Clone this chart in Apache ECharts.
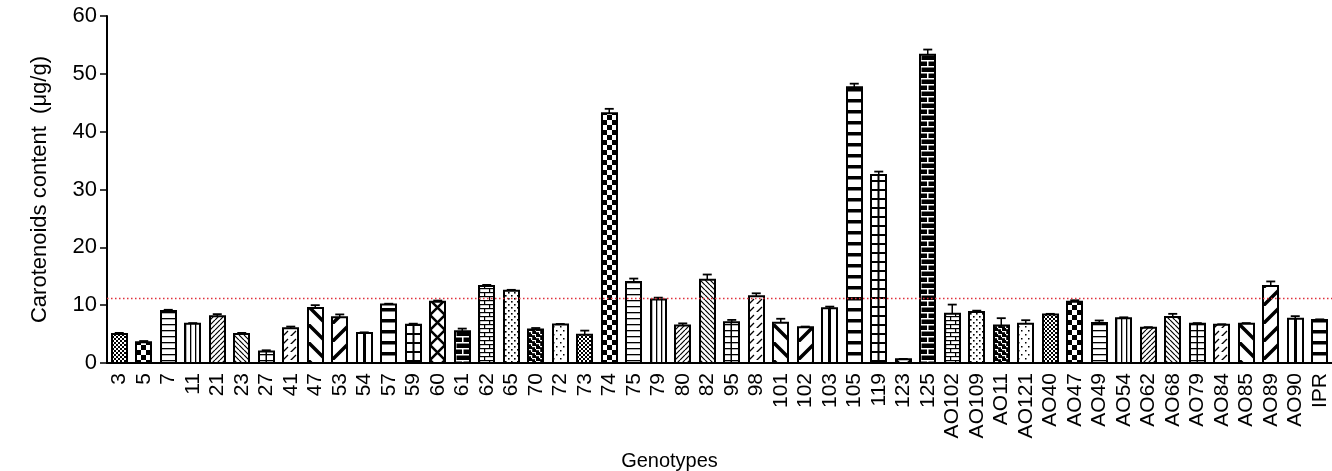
<!DOCTYPE html>
<html>
<head>
<meta charset="utf-8">
<script src="https://cdn.jsdelivr.net/npm/echarts@6/dist/echarts.min.js"></script>
<style>
html,body{margin:0;padding:0;background:#fff;}
#chart{width:1332px;height:471px;}
</style>
</head>
<body>
<div id="chart"></div>
<script>
// ---- data ----
const categories = ['3','5','7','11','21','23','27','41','47','53','54','57','59','60','61','62','65','70','72','73','74','75','79','80','82','95','98','101','102','103','105','119','123','125','AO102','AO109','AO11','AO121','AO40','AO47','AO49','AO54','AO62','AO68','AO79','AO84','AO85','AO89','AO90','IPR'];
const values = [5.0,3.6,9.0,6.8,8.1,5.0,2.0,6.0,9.5,7.9,5.2,10.1,6.6,10.6,5.5,13.3,12.5,5.8,6.65,4.9,43.2,14.0,11.0,6.5,14.4,7.05,11.55,6.95,6.2,9.45,47.7,32.5,0.66,53.3,8.5,8.8,6.5,6.8,8.4,10.6,6.9,7.75,6.1,7.95,6.8,6.6,6.8,13.3,7.65,7.45];
const errors = [0.2,0.2,0.2,0.1,0.35,0.2,0.2,0.3,0.5,0.5,0.1,0.15,0.2,0.2,0.45,0.2,0.15,0.25,0.1,0.7,0.75,0.6,0.3,0.35,0.9,0.4,0.5,0.7,0.1,0.3,0.6,0.6,0.05,0.9,1.6,0.25,1.25,0.6,0.1,0.25,0.45,0.15,0.1,0.55,0.1,0.1,0.1,0.8,0.45,0.1];
const referenceLine = 11.25;
const yTicks = {min:0, max:60, interval:10};

// ---- pattern tiles (style only) ----
function tile(w, h, draw, bg) {
  const c = document.createElement('canvas'); c.width = w; c.height = h;
  const g = c.getContext('2d');
  g.fillStyle = bg || '#fff'; g.fillRect(0,0,w,h);
  g.fillStyle = '#000'; g.strokeStyle = '#000';
  draw(g, w, h);
  return c;
}
function diag(g, w, h, lw, up) {
  g.lineWidth = lw; g.beginPath();
  for (let k = -1; k <= 1; k++) {
    if (up) { g.moveTo(k*w, h); g.lineTo(k*w + w, 0); }
    else { g.moveTo(k*w, 0); g.lineTo(k*w + w, h); }
  }
  g.stroke();
}
const tiles = [
  tile(4,4,g=>{g.fillRect(0,0,2,2);g.fillRect(2,2,2,2);}),                 // fine checker
  tile(10,10,g=>{g.fillRect(0,0,5,5);g.fillRect(5,5,5,5);}),               // big checker
  tile(15,6,g=>{g.fillRect(0,0,15,1.3);}),                                 // horizontal
  tile(5,4,g=>{g.fillRect(0,0,1.3,4);}),                                   // vertical
  tile(5,5,(g,w,h)=>diag(g,w,h,1.2,true)),                                 // dense /
  tile(5,5,(g,w,h)=>diag(g,w,h,1.2,false)),                                // dense \
  tile(15,6,g=>{g.fillRect(6.5,0,1.5,6);g.fillRect(0,0,15,1.3);}),         // grid
  tile(8,8,g=>{g.lineWidth=1.3;g.beginPath();g.moveTo(0,8);g.lineTo(5,3);g.moveTo(4,12);g.lineTo(9,7);g.stroke();}), // dashed /
  tile(18,18,(g,w,h)=>diag(g,w,h,3.5,false)),                              // thick \
  tile(18,18,(g,w,h)=>diag(g,w,h,3.5,true)),                               // thick /
  tile(15,4,g=>{g.fillRect(6,0,3,4);}),                                    // thick vertical
  tile(15,11,g=>{g.fillRect(0,0,15,3.5);}),                                // thick horizontal
  tile(15,9,g=>{g.fillRect(6.5,0,2,9);g.fillRect(0,0,15,2);}),             // grid 2
  tile(15,15,g=>{g.lineWidth=2.5;g.beginPath();g.moveTo(0,0);g.lineTo(15,15);g.moveTo(15,0);g.lineTo(0,15);g.stroke();}), // X
  tile(15,12,g=>{g.fillStyle='#fff';g.fillRect(0,0,15,1.5);g.fillRect(0,6,15,1.5);g.fillRect(7,0,1.5,6);g.fillRect(0,6,1.5,6);}, '#000'), // dark brick
  tile(10,8,g=>{g.fillRect(0,0,10,1.2);g.fillRect(0,4,10,1.2);g.fillRect(0,0,1.2,4);g.fillRect(5,4,1.2,4);}), // brick
  tile(6,6,g=>{g.fillRect(1,1,1.6,1.6);g.fillRect(4,4,1.6,1.6);}),         // dots
  tile(8,6,g=>{g.fillStyle='#fff';g.fillRect(0,1,4,1.2);g.fillRect(4,4,4,1.2);g.fillRect(3,1,1.2,3);g.fillRect(7,4,1.2,2);g.fillRect(7,0,1.2,1);}, '#000'), // dense dark brick
  tile(7,8,g=>{g.fillRect(3,2,1.5,1.5);g.fillRect(0,6,1.5,1.5);})          // sparse dots
];

const chart = echarts.init(document.getElementById('chart'), null, {renderer:'canvas'});
const FONT = 'Liberation Sans';
const BW = 15;

chart.setOption({
  animation: false,
  backgroundColor: '#fff',
  grid: {left: 107, right: 0, top: 16, bottom: 108, containLabel: false, outerBoundsMode: 'none'},
  xAxis: {
    type: 'category',
    data: categories,
    name: 'Genotypes',
    nameLocation: 'middle',
    nameGap: 88,
    nameTextStyle: {fontFamily: FONT, fontSize: 20, color: '#000', padding: [0, 100, 0, 0]},
    axisLine: {lineStyle: {color: '#000', width: 2}},
    axisTick: {alignWithLabel: true, length: 7, lineStyle: {color: '#000', width: 1.5}},
    axisLabel: {rotate: 90, interval: 0, margin: 10, fontFamily: FONT, fontSize: 21, color: '#000'}
  },
  yAxis: {
    type: 'value',
    min: yTicks.min, max: yTicks.max, interval: yTicks.interval,
    name: 'Carotenoids content  (\u03bcg/g)',
    nameLocation: 'middle',
    nameGap: 56,
    nameTextStyle: {fontFamily: FONT, fontSize: 22, color: '#000'},
    splitLine: {show: false},
    axisLine: {show: true, lineStyle: {color: '#000', width: 2}},
    axisTick: {show: true, length: 7, lineStyle: {color: '#000', width: 1.5}},
    axisLabel: {margin: 10, fontFamily: FONT, fontSize: 22, color: '#000'}
  },
  series: [
    {
      type: 'custom',
      data: values.map((v, i) => [i, v, errors[i]]),
      encode: {x: 0, y: 1},
      renderItem: function (params, api) {
        const i = api.value(0), v = api.value(1), e = api.value(2);
        const base = api.coord([i, 0]);
        const top = api.coord([i, v]);
        const et = api.coord([i, v + e]);
        const x = Math.round(base[0] - BW / 2);
        return {
          type: 'group',
          children: [
            {type: 'line', shape: {x1: base[0], y1: top[1], x2: base[0], y2: et[1]}, style: {stroke: '#000', lineWidth: 1.5}},
            {type: 'line', shape: {x1: base[0] - 4.5, y1: et[1], x2: base[0] + 4.5, y2: et[1]}, style: {stroke: '#000', lineWidth: 1.8}},
            {type: 'rect', shape: {x: x, y: top[1], width: BW, height: base[1] - top[1]},
             style: {fill: {image: tiles[i % tiles.length], repeat: 'repeat', x: x, y: 0}, stroke: '#000', lineWidth: 2}}
          ]
        };
      },
      z: 3
    },
    {
      type: 'line',
      data: categories.map(() => null),
      showSymbol: false,
      silent: true,
      markLine: {
        silent: true,
        symbol: 'none',
        label: {show: false},
        lineStyle: {type: [1.5, 2.5], color: '#e0303c', width: 1.4, opacity: 1},
        data: [{yAxis: referenceLine}]
      },
      z: 2
    }
  ]
});
</script>
</body>
</html>
